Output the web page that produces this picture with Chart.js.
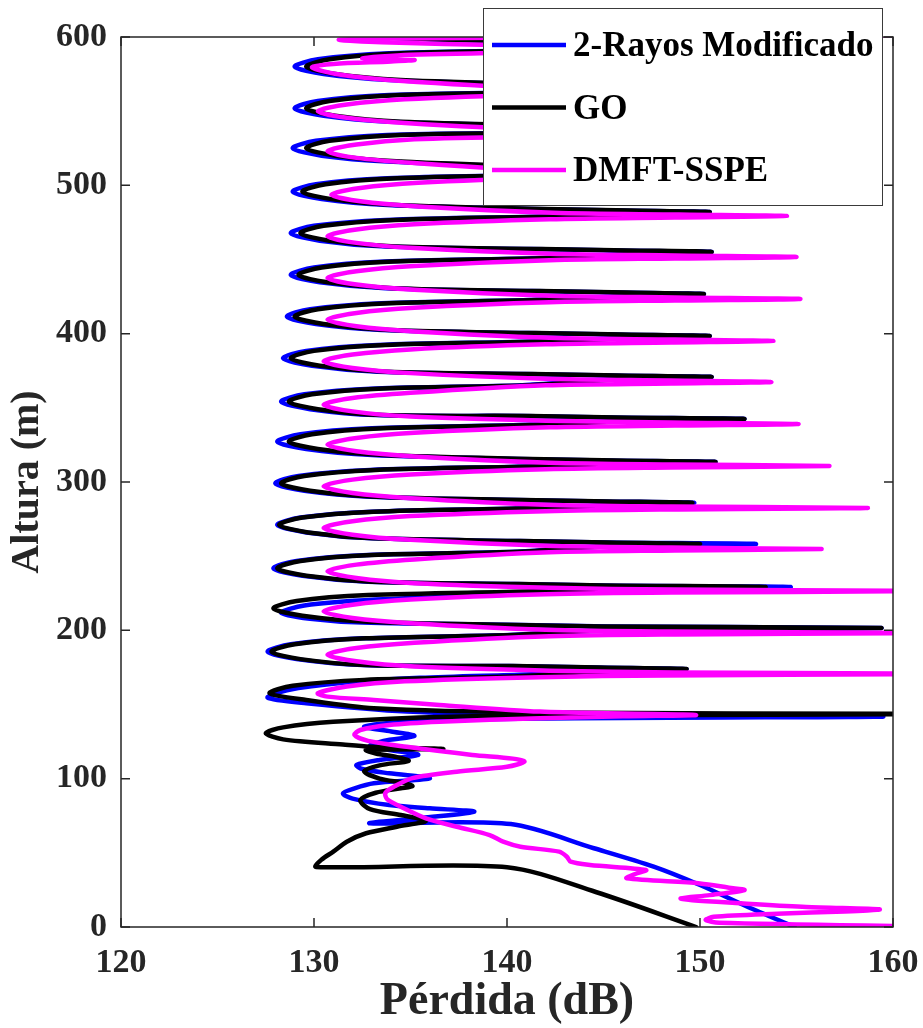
<!DOCTYPE html>
<html>
<head>
<meta charset="utf-8">
<script src="https://cdn.jsdelivr.net/npm/chart.js@4.4.1/dist/chart.umd.min.js"></script>
<style>
  html, body { margin: 0; padding: 0; background: #fff; }
</style>
</head>
<body>
<canvas id="lossChart" width="923" height="1028"></canvas>
<script>
const xTicks = [120, 130, 140, 150, 160];
const yTicks = [0, 100, 200, 300, 400, 500, 600];

const seriesNames = ["2-Rayos Modificado", "GO", "DMFT-SSPE"];
const seriesColors = ["#0000ff", "#000000", "#ff00ff"];

// 2-Rayos Modificado: altura (m) / pérdida (dB)
const rayosAltura = [
  0, 14.0, 28.3, 40.7, 53.1, 69.4, 69.9, 73.5, 77.7, 80.0,
  82.2, 86.5, 90.1, 93.5, 96.9, 100.2, 103.6, 106.5, 109.2, 112.6,
  116.0, 119.3, 122.0, 125.5, 128.8, 131.8, 135.0, 138.4, 140.5, 141.8,
  142.9, 145.2, 150.8, 154.6, 159.6, 164.6, 168.0, 170.3, 172.5, 173.9,
  174.9, 175.9, 176.6, 180.6, 185.6, 190.6, 194.6, 196.8, 199.6, 201.6,
  202.6, 203.6, 205.2, 207.8, 211.8, 216.8, 220.8, 224.5, 227.2, 229.2,
  230.2, 231.2, 232.8, 236.8, 241.8, 246.8, 250.8, 253.0, 256.2, 258.2,
  259.2, 260.2, 262.0, 266.0, 271.0, 276.0, 280.0, 282.2, 283.9, 285.9,
  286.9, 287.9, 290.1, 294.1, 299.1, 304.1, 308.1, 310.3, 311.5, 313.5,
  314.5, 315.5, 318.2, 322.2, 327.2, 332.2, 336.2, 338.4, 340.5, 342.5,
  343.5, 344.5, 345.1, 349.1, 354.1, 359.1, 363.1, 365.3, 368.8, 370.8,
  371.8, 372.8, 374.4, 378.4, 383.4, 388.4, 392.4, 394.6, 396.4, 398.4,
  399.4, 400.4, 402.5, 406.5, 411.5, 416.5, 420.5, 422.7, 424.7, 426.7,
  427.7, 428.7, 430.6, 434.6, 439.6, 444.6, 448.6, 450.8, 453.1, 455.1,
  456.1, 457.1, 458.7, 462.7, 467.7, 472.7, 476.7, 478.9, 480.0, 482.0,
  483.0, 484.0, 486.7, 490.7, 495.7, 500.7, 504.7, 506.9, 508.5, 510.5,
  511.5, 512.5, 516.0, 520.0, 525.0, 530.0, 534.0, 535.6, 536.7, 538.5,
  539.5, 540.5, 542.9, 546.9, 551.9, 556.9, 560.9, 562.7, 564.0, 566.0,
  567.0, 568.0, 571.0, 575.0, 580.0, 585.0, 589.0, 591.2, 593.5, 595.5,
  597.0, 598.5, 600.3, 602.0
];
const rayosPerdida = [
  154.9, 152.4, 150.0, 147.6, 144.5, 140.2, 132.9, 135.6, 138.3, 136.0,
  133.9, 132.0, 131.5, 132.1, 133.1, 136.0, 133.9, 132.5, 132.2, 133.4,
  135.4, 133.9, 132.9, 133.6, 135.2, 134.0, 132.6, 134.8, 141.7, 159.5,
  141.7, 134.8, 129.6, 127.6, 128.6, 131.5, 135.5, 141.0, 145.0, 149.3,
  144.6, 140.1, 132.5, 129.1, 127.6, 128.8, 132.5, 140.1, 144.1, 159.4,
  145.3, 140.8, 132.5, 129.8, 128.3, 129.5, 133.2, 140.8, 144.8, 154.7,
  144.9, 140.4, 132.8, 129.4, 127.9, 129.1, 132.8, 140.4, 144.4, 152.9,
  145.1, 140.6, 133.0, 129.6, 128.1, 129.3, 133.0, 140.6, 144.6, 149.7,
  145.0, 140.5, 132.9, 129.5, 128.0, 129.2, 132.9, 140.5, 144.5, 150.8,
  145.1, 140.6, 133.0, 129.6, 128.1, 129.3, 133.0, 140.6, 144.6, 152.3,
  145.3, 140.8, 133.2, 129.8, 128.3, 129.5, 133.2, 140.8, 144.8, 150.6,
  145.4, 140.9, 133.3, 129.9, 128.4, 129.6, 133.3, 140.9, 144.9, 150.5,
  145.6, 141.1, 133.5, 130.1, 128.6, 129.8, 133.5, 141.1, 145.1, 150.2,
  145.8, 141.3, 133.7, 130.3, 128.8, 130.0, 133.7, 141.3, 145.3, 150.6,
  145.8, 141.3, 133.7, 130.3, 128.8, 130.0, 133.7, 141.3, 145.3, 150.5,
  145.9, 141.4, 133.8, 130.4, 128.9, 130.1, 133.8, 141.4, 145.4, 150.3,
  145.9, 141.4, 133.8, 130.4, 128.9, 130.1, 133.8, 141.4, 145.4, 150.4,
  146.0, 141.5, 133.9, 130.5, 129.0, 130.2, 133.9, 141.5, 145.5, 150.2,
  146.0, 141.5, 133.9, 130.5, 129.0, 130.2, 133.9, 141.5, 145.5, 150.0,
  141.0, 136.0, 133.2, 133.0
];

// GO
const goAltura = [
  0, 23.6, 40.3, 40.5, 45.5, 50.8, 57.5, 63.2, 67.6, 71.5,
  75.5, 79.5, 85.5, 90.5, 93.5, 95.0, 97.0, 100.0, 105.0, 109.0,
  112.0, 114.5, 117.0, 119.3, 120.0, 121.6, 123.0, 126.5, 130.6, 134.6,
  138.4, 141.8, 142.8, 143.6,
  144.6, 147.4, 153.0, 157.6, 162.6, 166.6, 168.8, 171.9, 173.9,
  174.9, 175.9, 176.6, 180.6, 185.6, 190.6, 194.6, 196.8, 199.6, 201.6,
  202.6, 203.6, 205.8, 209.8, 214.8, 219.8, 223.8, 226.0, 227.2, 229.2,
  230.2, 231.2, 232.8, 236.8, 241.8, 246.8, 250.8, 253.0, 256.2, 258.2,
  259.2, 260.2, 262.0, 266.0, 271.0, 276.0, 280.0, 282.2, 283.9, 285.9,
  286.9, 287.9, 290.1, 294.1, 299.1, 304.1, 308.1, 310.3, 311.5, 313.5,
  314.5, 315.5, 318.2, 322.2, 327.2, 332.2, 336.2, 338.4, 340.5, 342.5,
  343.5, 344.5, 345.1, 349.1, 354.1, 359.1, 363.1, 365.3, 368.8, 370.8,
  371.8, 372.8, 374.4, 378.4, 383.4, 388.4, 392.4, 394.6, 396.4, 398.4,
  399.4, 400.4, 402.5, 406.5, 411.5, 416.5, 420.5, 422.7, 424.7, 426.7,
  427.7, 428.7, 430.6, 434.6, 439.6, 444.6, 448.6, 450.8, 453.1, 455.1,
  456.1, 457.1, 458.7, 462.7, 467.7, 472.7, 476.7, 478.9, 480.0, 482.0,
  483.0, 484.0, 486.7, 490.7, 495.7, 500.7, 504.7, 506.9, 508.5, 510.5,
  511.5, 512.5, 516.0, 520.0, 525.0, 530.0, 534.0, 535.6, 536.7, 538.5,
  539.5, 540.5, 542.9, 546.9, 551.9, 556.9, 560.9, 562.7, 564.0, 566.0,
  567.0, 568.0, 571.0, 575.0, 580.0, 585.0, 589.0, 591.2, 593.5, 595.5,
  597.0, 598.5, 600.3, 602.0
];
const goPerdida = [
  149.8, 144.6, 140.0, 130.1, 130.4, 131.0, 131.7, 132.7, 134.3, 135.8,
  134.5, 132.9, 132.4, 133.2, 134.5, 135.1, 134.7, 133.4, 132.6, 133.4,
  134.9, 134.3, 133.2, 132.7, 136.7, 132.9, 131.5, 128.4, 127.5, 128.4,
  131.0, 137.0, 145.0, 165.0,
  141.7, 133.1, 129.6, 127.7, 128.9, 132.6, 140.2, 144.2, 149.3,
  144.8, 140.3, 132.7, 129.3, 127.8, 129.0, 132.7, 140.3, 144.3, 159.4,
  144.9, 140.4, 132.8, 129.4, 127.9, 129.1, 132.8, 140.4, 144.4, 153.4,
  145.1, 140.6, 133.0, 129.6, 128.1, 129.3, 133.0, 140.6, 144.6, 150.0,
  145.2, 140.7, 133.1, 129.7, 128.2, 129.4, 133.1, 140.7, 144.7, 149.6,
  145.3, 140.8, 133.2, 129.8, 128.3, 129.5, 133.2, 140.8, 144.8, 150.8,
  145.7, 141.2, 133.6, 130.2, 128.7, 129.9, 133.6, 141.2, 145.2, 152.3,
  145.7, 141.2, 133.6, 130.2, 128.7, 129.9, 133.6, 141.2, 145.2, 150.6,
  145.8, 141.3, 133.7, 130.3, 128.8, 130.0, 133.7, 141.3, 145.3, 150.5,
  146.0, 141.5, 133.9, 130.5, 129.0, 130.2, 133.9, 141.5, 145.5, 150.2,
  146.2, 141.7, 134.1, 130.7, 129.2, 130.4, 134.1, 141.7, 145.7, 150.6,
  146.3, 141.8, 134.2, 130.8, 129.3, 130.5, 134.2, 141.8, 145.8, 150.5,
  146.4, 141.9, 134.3, 130.9, 129.4, 130.6, 134.3, 141.9, 145.9, 150.3,
  146.6, 142.1, 134.5, 131.1, 129.6, 130.8, 134.5, 142.1, 146.1, 150.4,
  146.6, 142.1, 134.5, 131.1, 129.6, 130.8, 134.5, 142.1, 146.1, 150.2,
  146.6, 142.1, 134.5, 131.1, 129.6, 130.8, 134.5, 142.1, 146.1, 150.0,
  141.0, 136.0, 133.2, 133.0
];

// DMFT-SSPE
const dmftAltura = [
  0.3, 2.9, 4.7, 6.9, 9.0, 10.5, 11.9, 13.5, 16.0, 18.0,
  19.3, 21.5, 24.9, 26.5, 29.4, 32.8, 35.5, 38.4, 41.8, 44.0,
  47.4, 50.8, 54.1, 57.5, 62.0, 67.6, 73.3, 81.1, 86.0, 90.5,
  95.0, 100.4, 104.7, 108.0, 111.4, 113.5, 116.0, 121.5, 125.5, 129.4,
  132.8, 136.2, 138.4, 140.7, 142.0, 142.9,
  143.9, 145.2, 149.7, 153.0, 155.3, 157.6, 162.1, 165.6, 168.4, 169.6, 170.6,
  171.6, 172.8, 175.6, 179.1, 183.6, 188.1, 191.6, 196.0, 197.2, 198.2,
  199.2, 200.4, 204.8, 208.3, 212.8, 217.3, 220.8, 224.3, 225.5, 226.5,
  227.5, 228.7, 231.8, 235.3, 239.8, 244.3, 247.8, 252.6, 253.8, 254.8,
  255.8, 257.0, 261.0, 264.5, 269.0, 273.5, 277.0, 280.3, 281.5, 282.5,
  283.5, 284.7, 289.1, 292.6, 297.1, 301.6, 305.1, 308.6, 309.8, 310.8,
  311.8, 313.0, 317.2, 320.7, 325.2, 329.7, 333.2, 336.9, 338.1, 339.1,
  340.1, 341.3, 344.1, 347.6, 352.1, 356.6, 360.1, 365.2, 366.4, 367.4,
  368.4, 369.6, 373.4, 376.9, 381.4, 385.9, 389.4, 392.8, 394.0, 395.0,
  396.0, 397.2, 401.5, 405.0, 409.5, 414.0, 417.5, 421.2, 422.4, 423.4,
  424.4, 425.6, 429.6, 433.1, 437.6, 442.1, 445.6, 449.5, 450.7, 451.7,
  452.7, 453.9, 457.7, 461.2, 465.7, 470.2, 473.7, 477.1, 478.3, 479.3,
  480.3, 481.5, 485.7, 489.2, 493.7, 498.2, 501.7, 505.1, 506.3, 507.3,
  508.3, 509.5, 515.0, 518.5, 523.0, 527.5, 531.0, 533.1, 534.3, 535.3,
  536.3, 537.5, 542.0, 545.5, 550.0, 554.5, 558.0, 561.3, 562.5, 563.5,
  564.5, 565.7, 570.5, 574.5, 579.5, 581.8, 583.5, 584.5, 585.5, 588.0,
  589.8, 591.0, 592.0, 593.2, 594.5, 596.5, 598.2, 599.2, 600.2, 601.0
];
const dmftPerdida = [
  162.0, 151.0, 150.3, 150.7, 154.0, 157.5, 159.3, 155.5, 152.1, 149.6,
  149.0, 150.5, 152.3, 151.5, 150.0, 146.2, 146.6, 147.2, 144.3, 143.3,
  143.1, 142.7, 140.7, 139.8, 139.1, 137.4, 135.8, 134.5, 133.8, 133.7,
  134.2, 135.1, 137.4, 140.0, 140.9, 140.3, 138.2, 134.8, 132.8, 132.1,
  132.4, 133.9, 136.5, 141.7, 146.0, 149.8,
  146.0, 141.7, 136.5, 133.1, 130.7, 130.2, 131.7, 134.7, 141.7, 148.2, 163.0,
  148.7, 142.2, 135.2, 132.2, 130.7, 132.2, 135.2, 142.2, 148.7, 163.0,
  148.5, 142.0, 135.0, 132.0, 130.5, 132.0, 135.0, 142.0, 148.5, 163.0,
  148.7, 142.2, 135.2, 132.2, 130.7, 132.2, 135.2, 142.2, 148.7, 156.3,
  148.5, 142.0, 135.0, 132.0, 130.5, 132.0, 135.0, 142.0, 148.5, 158.7,
  148.5, 142.0, 135.0, 132.0, 130.5, 132.0, 135.0, 142.0, 148.5, 156.7,
  148.7, 142.2, 135.2, 132.2, 130.7, 132.2, 135.2, 142.2, 148.7, 155.1,
  148.5, 142.0, 135.0, 132.0, 130.5, 132.0, 135.0, 142.0, 148.5, 153.7,
  148.5, 142.0, 135.0, 132.0, 130.5, 132.0, 135.0, 142.0, 148.5, 153.8,
  148.7, 142.2, 135.2, 132.2, 130.7, 132.2, 135.2, 142.2, 148.7, 155.2,
  148.7, 142.2, 135.2, 132.2, 130.7, 132.2, 135.2, 142.2, 148.7, 155.0,
  148.7, 142.2, 135.2, 132.2, 130.7, 132.2, 135.2, 142.2, 148.7, 154.5,
  148.9, 142.4, 135.4, 132.4, 130.9, 132.4, 135.4, 142.4, 148.9, 155.0,
  148.7, 142.2, 135.2, 132.2, 130.7, 132.2, 135.2, 142.2, 148.7, 155.0,
  148.2, 141.7, 134.7, 131.7, 130.2, 131.7, 134.7, 141.7, 148.2, 154.0,
  147.9, 141.4, 134.4, 131.4, 129.9, 131.0, 134.0, 135.2, 132.5, 135.0,
  142.0, 150.0, 156.0, 148.0, 140.0, 133.5, 131.3, 136.0, 150.0, 160.0
];

const serif = "'Liberation Serif', 'Times New Roman', serif";

function toPoints(altura, perdida) {
  return altura.map((h, i) => ({ x: perdida[i], y: h }));
}

function lineSet(i, data, order) {
  return {
    label: seriesNames[i],
    data,
    borderColor: seriesColors[i],
    backgroundColor: seriesColors[i],
    borderWidth: 4.5,
    borderCapStyle: "round",
    borderJoinStyle: "round",
    showLine: true,
    pointRadius: 0,
    tension: 0.3,
    clip: 0,
    order
  };
}

// keep the plot box fixed: no extra room for edge labels
function fixAxis(size) {
  return scale => {
    if (scale.isHorizontal()) scale.height = size;
    else scale.width = size;
    scale.paddingLeft = 0;
    scale.paddingRight = 0;
    scale.paddingTop = 0;
    scale.paddingBottom = 0;
  };
}

// frame with inward ticks on all four sides
const axesBox = {
  id: "axesBox",
  afterDatasetsDraw(chart) {
    const { ctx, chartArea: a, scales: { x, y } } = chart;
    ctx.save();
    ctx.strokeStyle = "#262626";
    ctx.lineWidth = 1.5;
    ctx.strokeRect(a.left, a.top, a.right - a.left, a.bottom - a.top);
    ctx.beginPath();
    xTicks.forEach(v => {
      const px = x.getPixelForValue(v);
      ctx.moveTo(px, a.bottom); ctx.lineTo(px, a.bottom - 9);
      ctx.moveTo(px, a.top); ctx.lineTo(px, a.top + 9);
    });
    yTicks.forEach(v => {
      const py = y.getPixelForValue(v);
      ctx.moveTo(a.left, py); ctx.lineTo(a.left + 9, py);
      ctx.moveTo(a.right, py); ctx.lineTo(a.right - 9, py);
    });
    ctx.stroke();
    ctx.restore();
  }
};

// boxed legend in the upper right, overlapping the top edge
const legendBox = {
  id: "legendBox",
  afterDraw(chart) {
    const ctx = chart.ctx;
    const bx = 483, by = 8, bw = 399, bh = 197;
    ctx.save();
    ctx.fillStyle = "#ffffff";
    ctx.fillRect(bx, by, bw, bh);
    ctx.strokeStyle = "#3a3a3a";
    ctx.lineWidth = 1;
    ctx.strokeRect(bx + 0.5, by + 0.5, bw, bh);
    ctx.font = "bold 35px " + serif;
    ctx.textBaseline = "middle";
    ctx.fillStyle = "#000";
    seriesNames.forEach((name, i) => {
      const ry = 45 + i * 62.5;
      ctx.strokeStyle = seriesColors[i];
      ctx.lineWidth = 4.5;
      ctx.beginPath();
      ctx.moveTo(492, ry);
      ctx.lineTo(566, ry);
      ctx.stroke();
      ctx.fillText(name, 573, ry + 2);
    });
    ctx.restore();
  }
};

new Chart(document.getElementById("lossChart"), {
  type: "scatter",
  data: {
    datasets: [
      lineSet(0, toPoints(rayosAltura, rayosPerdida), 2),
      lineSet(1, toPoints(goAltura, goPerdida), 1),
      lineSet(2, toPoints(dmftAltura, dmftPerdida), 0)
    ]
  },
  options: {
    responsive: false,
    devicePixelRatio: 1,
    animation: false,
    layout: { padding: { top: 37, right: 30, left: 0, bottom: 0 } },
    plugins: {
      legend: { display: false },
      tooltip: { enabled: false }
    },
    scales: {
      x: {
        type: "linear",
        min: 120,
        max: 160,
        grid: { display: false, drawTicks: false },
        border: { display: false },
        ticks: {
          stepSize: 10,
          padding: 16,
          color: "#262626",
          font: { family: serif, size: 34, weight: "bold" }
        },
        title: {
          display: true,
          text: "Pérdida (dB)",
          color: "#262626",
          padding: { top: 0, bottom: 3 },
          font: { family: serif, size: 46, weight: "bold", lineHeight: 1 }
        },
        afterFit: fixAxis(101)
      },
      y: {
        type: "linear",
        min: 0,
        max: 600,
        grid: { display: false, drawTicks: false },
        border: { display: false },
        ticks: {
          stepSize: 100,
          padding: 14,
          color: "#262626",
          font: { family: serif, size: 34, weight: "bold" }
        },
        title: {
          display: true,
          text: "Altura (m)",
          color: "#262626",
          padding: { top: 8, bottom: 0 },
          font: { family: serif, size: 40, weight: "bold", lineHeight: 1 }
        },
        afterFit: fixAxis(121)
      }
    }
  },
  plugins: [axesBox, legendBox]
});
</script>
</body>
</html>
